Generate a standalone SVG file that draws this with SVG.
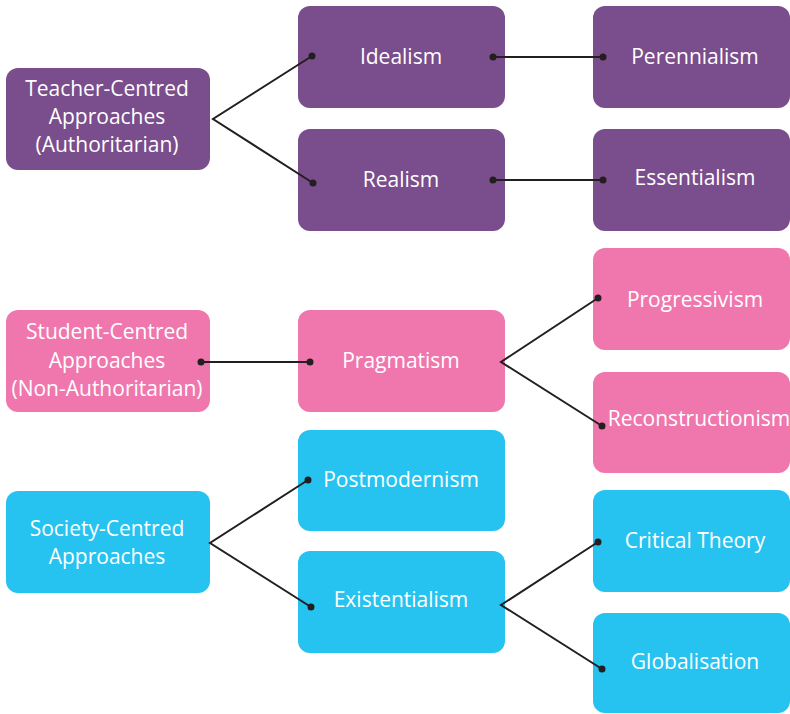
<svg xmlns="http://www.w3.org/2000/svg" width="790" height="714" viewBox="0 0 790 714">
  <style>
    .box { stroke: none; }
    .purple { fill: #7a4d8c; }
    .pink { fill: #f077ad; }
    .cyan { fill: #26c3f0; }
    .label { font-family: "Open Sans", "Liberation Sans", sans-serif; font-size: 21px; fill: #ffffff; text-anchor: middle; }
    .link { fill: none; stroke: #231f20; stroke-width: 2; stroke-linejoin: miter; }
    .dot { fill: #231f20; }
  </style>
  <rect width="790" height="714" fill="#ffffff"/>

  <!-- Teacher-centred branch -->
  <g id="teacher-centred">
    <rect class="box purple" x="6" y="68" width="204" height="102" rx="12"/>
    <text class="label" x="107" y="96">Teacher-Centred</text>
    <text class="label" x="107" y="124">Approaches</text>
    <text class="label" x="107" y="152">(Authoritarian)</text>
  </g>
  <g id="idealism">
    <rect class="box purple" x="298" y="6" width="207" height="102" rx="12"/>
    <text class="label" x="401" y="64">Idealism</text>
  </g>
  <g id="realism">
    <rect class="box purple" x="298" y="129" width="207" height="102" rx="12"/>
    <text class="label" x="401" y="187">Realism</text>
  </g>
  <g id="perennialism">
    <rect class="box purple" x="593" y="6" width="197" height="102" rx="12"/>
    <text class="label" x="695" y="64">Perennialism</text>
  </g>
  <g id="essentialism">
    <rect class="box purple" x="593" y="129" width="197" height="102" rx="12"/>
    <text class="label" x="695" y="185">Essentialism</text>
  </g>

  <!-- Student-centred branch -->
  <g id="student-centred">
    <rect class="box pink" x="6" y="310" width="204" height="102" rx="12"/>
    <text class="label" x="107" y="339">Student-Centred</text>
    <text class="label" x="107" y="368">Approaches</text>
    <text class="label" x="107" y="396">(Non-Authoritarian)</text>
  </g>
  <g id="pragmatism">
    <rect class="box pink" x="298" y="310" width="207" height="102" rx="12"/>
    <text class="label" x="401" y="368">Pragmatism</text>
  </g>
  <g id="progressivism">
    <rect class="box pink" x="593" y="248" width="197" height="102" rx="12"/>
    <text class="label" x="695" y="307">Progressivism</text>
  </g>
  <g id="reconstructionism">
    <rect class="box pink" x="593" y="372" width="197" height="101" rx="12"/>
    <text class="label" x="699" y="426">Reconstructionism</text>
  </g>

  <!-- Society-centred branch -->
  <g id="society-centred">
    <rect class="box cyan" x="6" y="491" width="204" height="102" rx="12"/>
    <text class="label" x="107" y="536">Society-Centred</text>
    <text class="label" x="107" y="564">Approaches</text>
  </g>
  <g id="postmodernism">
    <rect class="box cyan" x="298" y="430" width="207" height="101" rx="12"/>
    <text class="label" x="401" y="487">Postmodernism</text>
  </g>
  <g id="existentialism">
    <rect class="box cyan" x="298" y="551" width="207" height="102" rx="12"/>
    <text class="label" x="401" y="607">Existentialism</text>
  </g>
  <g id="critical-theory">
    <rect class="box cyan" x="593" y="490" width="197" height="102" rx="12"/>
    <text class="label" x="695" y="548">Critical Theory</text>
  </g>
  <g id="globalisation">
    <rect class="box cyan" x="593" y="613" width="197" height="100" rx="12"/>
    <text class="label" x="695" y="669">Globalisation</text>
  </g>

  <!-- Connectors -->
  <g id="connectors">
    <polyline class="link" points="312,56 213,119 313,183"/>
    <circle class="dot" cx="312" cy="56" r="3.5"/>
    <circle class="dot" cx="313" cy="183" r="3.5"/>

    <line class="link" x1="493" y1="57" x2="603" y2="57"/>
    <circle class="dot" cx="493" cy="57" r="3.5"/>
    <circle class="dot" cx="603" cy="57" r="3.5"/>

    <line class="link" x1="493" y1="180" x2="603" y2="180"/>
    <circle class="dot" cx="493" cy="180" r="3.5"/>
    <circle class="dot" cx="603" cy="180" r="3.5"/>

    <line class="link" x1="201" y1="362" x2="310" y2="362"/>
    <circle class="dot" cx="201" cy="362" r="3.5"/>
    <circle class="dot" cx="310" cy="362" r="3.5"/>

    <polyline class="link" points="598,298 501,362 602,426"/>
    <circle class="dot" cx="598" cy="298" r="3.5"/>
    <circle class="dot" cx="602" cy="426" r="3.5"/>

    <polyline class="link" points="308,480 210,543 311,607"/>
    <circle class="dot" cx="308" cy="480" r="3.5"/>
    <circle class="dot" cx="311" cy="607" r="3.5"/>

    <polyline class="link" points="598,542 501,605 602,669"/>
    <circle class="dot" cx="598" cy="542" r="3.5"/>
    <circle class="dot" cx="602" cy="669" r="3.5"/>
  </g>
</svg>
